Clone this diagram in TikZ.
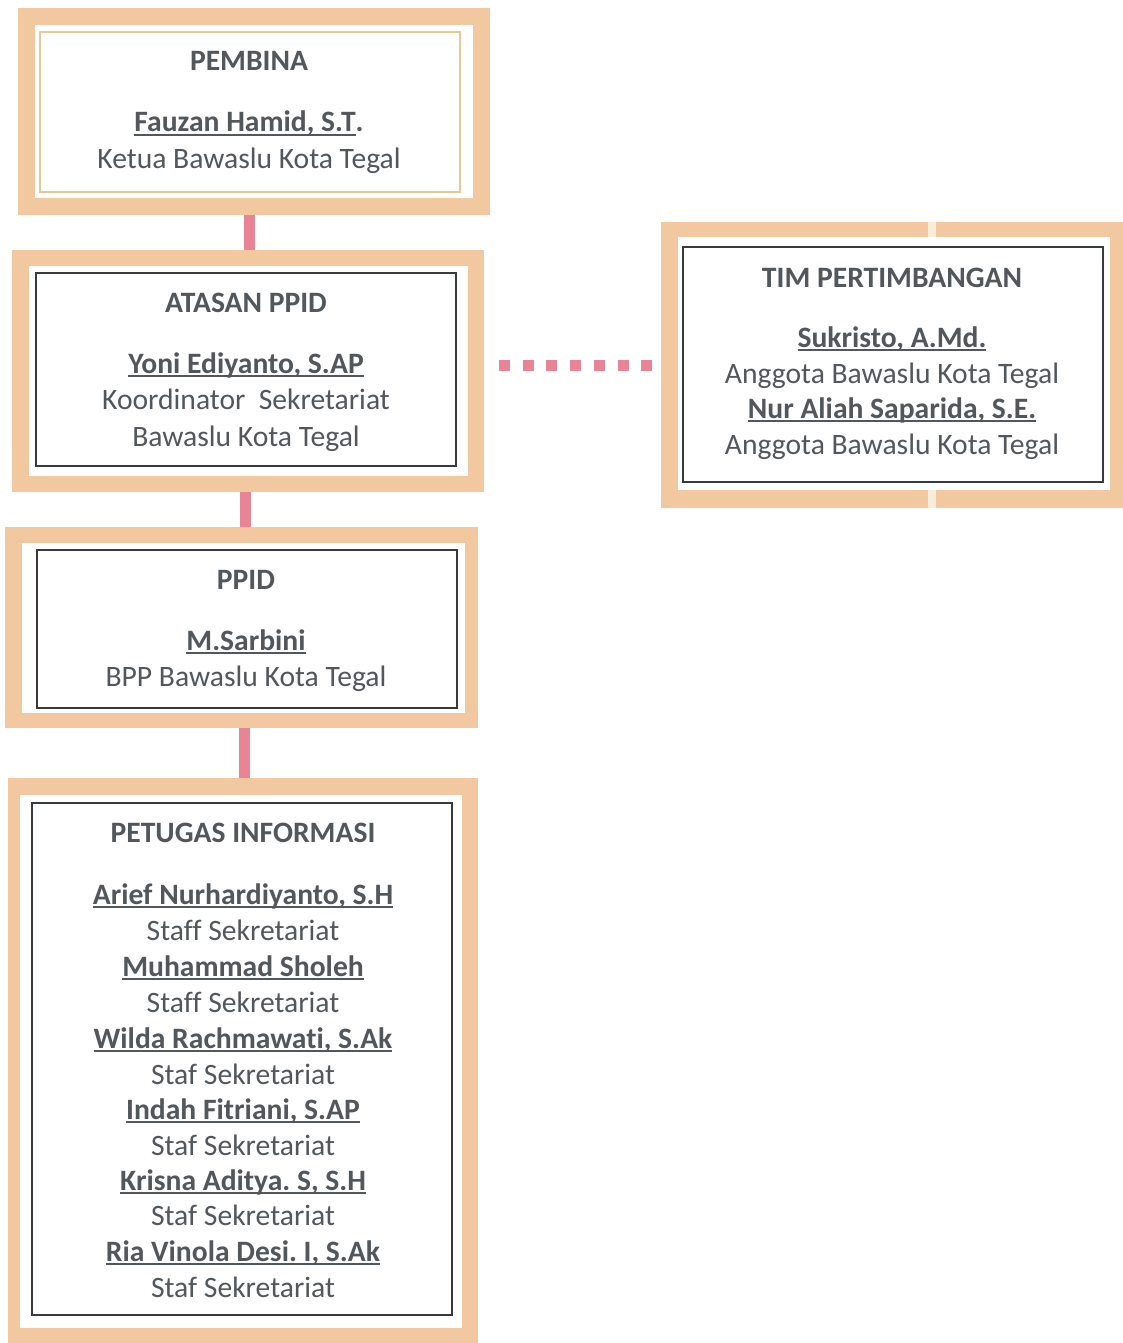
\documentclass[tikz,border=0pt]{standalone}
\usepackage{fontspec}
\setmainfont[Ligatures={NoCommon}]{Carlito}
\usetikzlibrary{fit}
\definecolor{tanc}{RGB}{241,200,160}
\definecolor{tanline}{RGB}{232,200,150}
\definecolor{seamc}{RGB}{248,236,218}
\definecolor{pinkc}{RGB}{232,132,150}
\definecolor{textc}{RGB}{82,87,92}
\definecolor{boxline}{RGB}{55,58,62}
\newcommand{\ulx}[1]{\setbox0=\hbox{#1}\rlap{\rule[-4pt]{\wd0}{1.8pt}}\box0}
\tikzset{
  outerframe/.style={fill=tanc, draw=none, inner sep=0pt, outer sep=0pt},
  whitearea/.style={fill=white, draw=none, inner sep=0pt, outer sep=0pt},
  innerbox/.style={draw=boxline, line width=1.4pt, inner sep=0pt, outer sep=0pt},
  innerboxlight/.style={draw=tanline, line width=1.4pt, inner sep=0pt, outer sep=0pt},
  vconn/.style={draw=pinkc, line width=11pt},
  hdash/.style={draw=pinkc, line width=11pt, dash pattern=on 11pt off 12.7pt},
  txt/.style={anchor=base, inner sep=0pt, text=textc, font=\fontsize{29.6pt}{35pt}\selectfont\frenchspacing},
  ttl/.style={txt, font=\fontsize{29.6pt}{35pt}\selectfont\bfseries\frenchspacing},
  nm/.style={txt, font=\fontsize{29.6pt}{35pt}\selectfont\bfseries\frenchspacing},
}
\begin{document}
\begin{tikzpicture}[x=1pt,y=-1pt]
\useasboundingbox (0,0) rectangle (1123,1343);
% frames
\node[outerframe, fit={(18,8)(490,215)}] (f1) {};
\node[outerframe, fit={(12,250)(484,492)}] (f2) {};
\node[outerframe, fit={(5,527)(478,728)}] (f3) {};
\node[outerframe, fit={(8,778)(478,1343)}] (f4) {};
\node[outerframe, fit={(661,222)(1123,508)}] (f5) {};
% connectors
\draw[vconn] ([xshift=-5pt]f1.south) -- ([xshift=-5pt]f1.south |- f2.north);
\draw[vconn] ([xshift=-3pt]f2.south) -- ([xshift=-3pt]f2.south |- f3.north);
\draw[vconn] ([xshift=3pt]f3.south) -- ([xshift=3pt]f3.south |- f4.north);
\draw[hdash] ([xshift=15pt]f2.east |- f5.west) -- ([xshift=-8pt]f5.west);
% white areas
\node[whitearea, fit={(35,25)(473,198)}] (w1) {};
\node[whitearea, fit={(29,266)(468,476)}] (w2) {};
\node[whitearea, fit={(22,543)(465,713)}] (w3) {};
\node[whitearea, fit={(20,795)(462,1328)}] (w4) {};
\node[whitearea, fit={(678,237)(1110,490)}] (w5) {};
% seam of the scan on the right frame
\fill[seamc] (928,222) rectangle (936,237);
\fill[seamc] (928,490) rectangle (936,508);
% inner boxes
\node[innerboxlight, fit={(40,32)(460,192)}] (b1) {};
\node[innerbox, fit={(36,273)(456,466)}] (b2) {};
\node[innerbox, fit={(37,550)(457,708)}] (b3) {};
\node[innerbox, fit={(32,803)(452,1315)}] (b4) {};
\node[innerbox, fit={(683,247)(1103,482)}] (b5) {};
% box 1
\node[ttl] (t1) at (249,71) {PEMBINA};
\node[nm] (n1) at (249,132) {\ulx{Fauzan Hamid, S.T}.};
\node[txt] (r1) at (249,169) {Ketua Bawaslu Kota Tegal};
% box 2
\node[ttl] (t2) at (246,312) {ATASAN PPID};
\node[nm] (n2) at (246,373) {\ulx{Yoni Ediyanto, S.AP}};
\node[txt] (r2a) at (246,409) {Koordinator~ Sekretariat};
\node[txt] (r2b) at (246,446) {Bawaslu Kota Tegal};
% box 3
\node[ttl] (t3) at (246,589) {PPID};
\node[nm] (n3) at (246,650) {\ulx{M.Sarbini}};
\node[txt] (r3) at (246,686) {BPP Bawaslu Kota Tegal};
% box 4
\node[ttl] (t4) at (243,842) {PETUGAS INFORMASI};
\node[nm] (n4a) at (243,904) {\ulx{Arief Nurhardiyanto, S.H}};
\node[txt] (r4a) at (243,940) {Staff Sekretariat};
\node[nm] (n4b) at (243,976) {\ulx{Muhammad Sholeh}};
\node[txt] (r4b) at (243,1012) {Staff Sekretariat};
\node[nm] (n4c) at (243,1048) {\ulx{Wilda Rachmawati, S.Ak}};
\node[txt] (r4c) at (243,1084) {Staf Sekretariat};
\node[nm] (n4d) at (243,1119) {\ulx{Indah Fitriani, S.AP}};
\node[txt] (r4d) at (243,1155) {Staf Sekretariat};
\node[nm] (n4e) at (243,1190) {\ulx{Krisna Aditya. S, S.H}};
\node[txt] (r4e) at (243,1225) {Staf Sekretariat};
\node[nm] (n4f) at (243,1261) {\ulx{Ria Vinola Desi. I, S.Ak}};
\node[txt] (r4f) at (243,1297) {Staf Sekretariat};
% box 5
\node[ttl] (t5) at (892,287) {TIM PERTIMBANGAN};
\node[nm] (n5a) at (892,347) {\ulx{Sukristo, A.Md.}};
\node[txt] (r5a) at (892,383) {Anggota Bawaslu Kota Tegal};
\node[nm] (n5b) at (892,418) {\ulx{Nur Aliah Saparida, S.E.}};
\node[txt] (r5b) at (892,454) {Anggota Bawaslu Kota Tegal};
\end{tikzpicture}
\end{document}
